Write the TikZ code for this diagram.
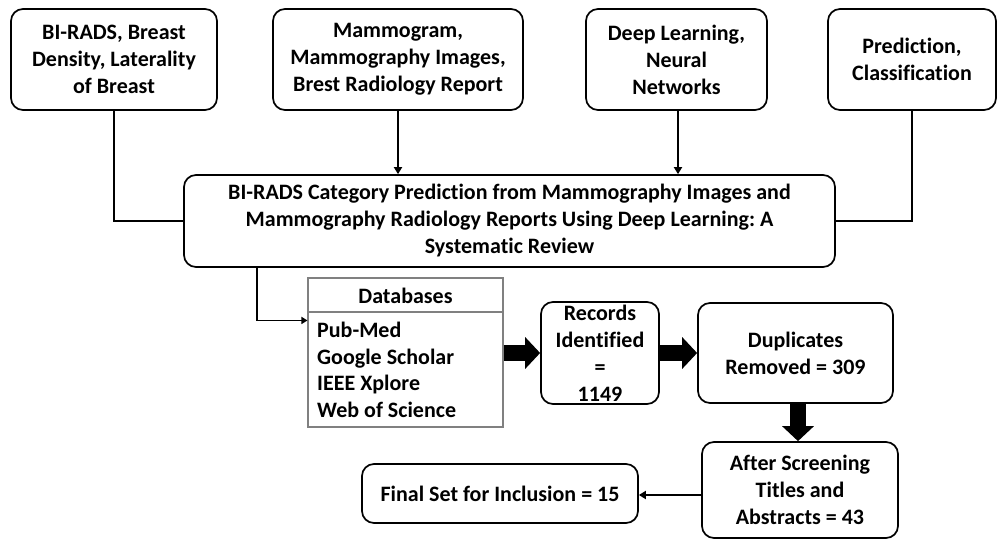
\documentclass[tikz,border=0pt]{standalone}
\usepackage{fontspec}
\setmainfont{Carlito}[Ligatures=NoCommon]
\usetikzlibrary{arrows.meta,calc}
\tikzset{
  box/.style={draw, line width=1.7pt, rounded corners=12pt, align=center, inner sep=0pt,
    font=\bfseries\fontsize{22}{27}\selectfont},
  dbbox/.style={draw=gray, line width=1.1pt, inner sep=0pt},
  txt/.style={inner sep=0pt, font=\bfseries\fontsize{22}{26.5}\selectfont},
  conn/.style={line width=2.6pt},
  thinarrow/.style={line width=1.8pt, -{Triangle[length=7pt, width=8pt]}},
  fatarrow/.style={line width=16pt, -{Triangle[length=15pt, width=31pt]}}
}
\frenchspacing
\begin{document}
\begin{tikzpicture}[x=1pt, y=-1pt]
\useasboundingbox (0,0) rectangle (998,540);
\node[box, minimum width=206pt, minimum height=101pt] (b1) at (114,59.5) {BI-RADS, Breast\\Density, Laterality\\of Breast};
\node[box, minimum width=250pt, minimum height=101pt] (b2) at (398,59.5) {Mammogram,\\Mammography Images,\\Brest Radiology Report};
\node[box, minimum width=181pt, minimum height=101pt] (b3) at (676.5,59.5) {Deep Learning,\\Neural\\Networks};
\node[box, minimum width=168pt, minimum height=101pt] (b4) at (912,59.5) {Prediction,\\Classification};
\node[box, minimum width=651pt, minimum height=92pt] (main) at (509.5,221) {BI-RADS Category Prediction from Mammography Images and\\Mammography Radiology Reports Using Deep Learning: A\\Systematic Review};
\node[dbbox, minimum width=195pt, minimum height=149pt] (db) at (405.5,352.5) {};
\node[txt] (dbh) at (405.5,296) {Databases};
\draw[gray, line width=1.1pt] (db.west |- 0,312) -- (db.east |- 0,312);
\node[txt, anchor=north west, align=left] (dbl) at (317,322) {Pub-Med\\Google Scholar\\IEEE Xplore\\Web of Science};
\node[box, minimum width=118pt, minimum height=102pt] (rec) at (600,353) {Records\\Identified\\=\\1149};
\node[box, minimum width=195pt, minimum height=100pt] (dup) at (795.5,353) {Duplicates\\Removed = 309};
\node[box, minimum width=196pt, minimum height=96pt] (scr) at (800,490) {After Screening\\Titles and\\Abstracts = 43};
\node[box, minimum width=276pt, minimum height=59pt] (fin) at (500,493.5) {Final Set for Inclusion = 15};
% connectors
\draw[conn] (b1.south) |- (main.west);
\draw[conn] (b4.south) |- (main.east);
\draw[thinarrow] (b2.south) -- (b2.south |- main.north);
\draw[thinarrow] ([xshift=1.5pt]b3.south) -- ([xshift=1.5pt]b3.south |- main.north);
\draw[line width=1.5pt, -{Triangle[length=6pt, width=7pt]}] ([xshift=74pt]main.south west) |- ([yshift=-43pt]db.north west);
\draw[fatarrow] (db.east |- rec.west) -- (rec.west);
\draw[fatarrow] (rec.east) -- (dup.west);
\draw[fatarrow] ([xshift=2.5pt]dup.south) -- ([xshift=2.5pt]dup.south |- scr.north);
\draw[thinarrow] ([yshift=-5pt]scr.west) -- ([yshift=-5pt]scr.west -| fin.east);
\end{tikzpicture}
\end{document}
